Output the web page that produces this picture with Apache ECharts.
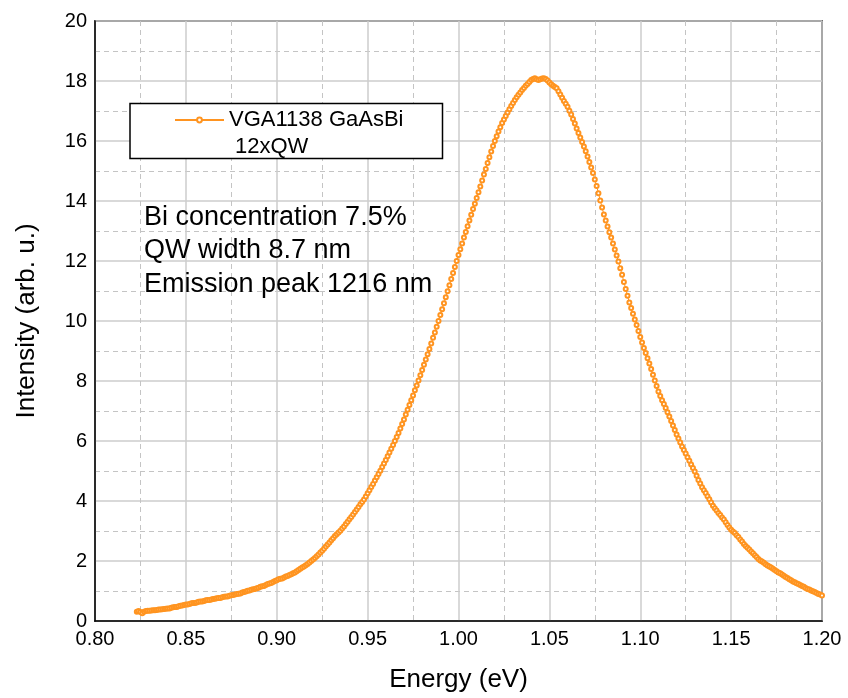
<!DOCTYPE html>
<html>
<head>
<meta charset="utf-8">
<title>VGA1138 GaAsBi photoluminescence</title>
<script src="https://cdn.jsdelivr.net/npm/echarts@6/dist/echarts.min.js"></script>
<style>
  html, body { margin: 0; padding: 0; background: #ffffff; }
  #chart { width: 848px; height: 698px; }
</style>
</head>
<body>
<div id="chart"></div>
<script>
// Photon energy of each sample (eV), one row per 0.01 eV
const energy = [
  0.823, 0.824, 0.825, 0.826, 0.827, 0.828, 0.829, 0.830, 0.831, 0.832,
  0.833, 0.834, 0.835, 0.836, 0.837, 0.838, 0.839, 0.840, 0.841, 0.842,
  0.843, 0.844, 0.845, 0.846, 0.847, 0.848, 0.849, 0.850, 0.851, 0.852,
  0.853, 0.854, 0.855, 0.856, 0.857, 0.858, 0.859, 0.860, 0.861, 0.862,
  0.863, 0.864, 0.865, 0.866, 0.867, 0.868, 0.869, 0.870, 0.871, 0.872,
  0.873, 0.874, 0.875, 0.876, 0.877, 0.878, 0.879, 0.880, 0.881, 0.882,
  0.883, 0.884, 0.885, 0.886, 0.887, 0.888, 0.889, 0.890, 0.891, 0.892,
  0.893, 0.894, 0.895, 0.896, 0.897, 0.898, 0.899, 0.900, 0.901, 0.902,
  0.903, 0.904, 0.905, 0.906, 0.907, 0.908, 0.909, 0.910, 0.911, 0.912,
  0.913, 0.914, 0.915, 0.916, 0.917, 0.918, 0.919, 0.920, 0.921, 0.922,
  0.923, 0.924, 0.925, 0.926, 0.927, 0.928, 0.929, 0.930, 0.931, 0.932,
  0.933, 0.934, 0.935, 0.936, 0.937, 0.938, 0.939, 0.940, 0.941, 0.942,
  0.943, 0.944, 0.945, 0.946, 0.947, 0.948, 0.949, 0.950, 0.951, 0.952,
  0.953, 0.954, 0.955, 0.956, 0.957, 0.958, 0.959, 0.960, 0.961, 0.962,
  0.963, 0.964, 0.965, 0.966, 0.967, 0.968, 0.969, 0.970, 0.971, 0.972,
  0.973, 0.974, 0.975, 0.976, 0.977, 0.978, 0.979, 0.980, 0.981, 0.982,
  0.983, 0.984, 0.985, 0.986, 0.987, 0.988, 0.989, 0.990, 0.991, 0.992,
  0.993, 0.994, 0.995, 0.996, 0.997, 0.998, 0.999, 1.000, 1.001, 1.002,
  1.003, 1.004, 1.005, 1.006, 1.007, 1.008, 1.009, 1.010, 1.011, 1.012,
  1.013, 1.014, 1.015, 1.016, 1.017, 1.018, 1.019, 1.020, 1.021, 1.022,
  1.023, 1.024, 1.025, 1.026, 1.027, 1.028, 1.029, 1.030, 1.031, 1.032,
  1.033, 1.034, 1.035, 1.036, 1.037, 1.038, 1.039, 1.040, 1.041, 1.042,
  1.043, 1.044, 1.045, 1.046, 1.047, 1.048, 1.049, 1.050, 1.051, 1.052,
  1.053, 1.054, 1.055, 1.056, 1.057, 1.058, 1.059, 1.060, 1.061, 1.062,
  1.063, 1.064, 1.065, 1.066, 1.067, 1.068, 1.069, 1.070, 1.071, 1.072,
  1.073, 1.074, 1.075, 1.076, 1.077, 1.078, 1.079, 1.080, 1.081, 1.082,
  1.083, 1.084, 1.085, 1.086, 1.087, 1.088, 1.089, 1.090, 1.091, 1.092,
  1.093, 1.094, 1.095, 1.096, 1.097, 1.098, 1.099, 1.100, 1.101, 1.102,
  1.103, 1.104, 1.105, 1.106, 1.107, 1.108, 1.109, 1.110, 1.111, 1.112,
  1.113, 1.114, 1.115, 1.116, 1.117, 1.118, 1.119, 1.120, 1.121, 1.122,
  1.123, 1.124, 1.125, 1.126, 1.127, 1.128, 1.129, 1.130, 1.131, 1.132,
  1.133, 1.134, 1.135, 1.136, 1.137, 1.138, 1.139, 1.140, 1.141, 1.142,
  1.143, 1.144, 1.145, 1.146, 1.147, 1.148, 1.149, 1.150, 1.151, 1.152,
  1.153, 1.154, 1.155, 1.156, 1.157, 1.158, 1.159, 1.160, 1.161, 1.162,
  1.163, 1.164, 1.165, 1.166, 1.167, 1.168, 1.169, 1.170, 1.171, 1.172,
  1.173, 1.174, 1.175, 1.176, 1.177, 1.178, 1.179, 1.180, 1.181, 1.182,
  1.183, 1.184, 1.185, 1.186, 1.187, 1.188, 1.189, 1.190, 1.191, 1.192,
  1.193, 1.194, 1.195, 1.196, 1.197, 1.198, 1.199, 1.200
];

// PL intensity at each energy (arb. u.)
const intensity = [
  0.31, 0.33, 0.30, 0.26, 0.31, 0.33, 0.34, 0.34, 0.35, 0.36,
  0.36, 0.37, 0.38, 0.38, 0.39, 0.40, 0.41, 0.42, 0.42, 0.44,
  0.46, 0.47, 0.47, 0.49, 0.51, 0.52, 0.53, 0.55, 0.55, 0.57,
  0.59, 0.60, 0.60, 0.62, 0.64, 0.65, 0.65, 0.67, 0.69, 0.70,
  0.70, 0.72, 0.73, 0.74, 0.76, 0.77, 0.77, 0.79, 0.81, 0.82,
  0.82, 0.84, 0.86, 0.87, 0.88, 0.90, 0.91, 0.92, 0.95, 0.97,
  0.98, 1.01, 1.02, 1.04, 1.06, 1.07, 1.09, 1.11, 1.14, 1.16,
  1.17, 1.20, 1.23, 1.25, 1.27, 1.30, 1.33, 1.36, 1.39, 1.41,
  1.42, 1.45, 1.48, 1.50, 1.53, 1.56, 1.59, 1.62, 1.66, 1.70,
  1.74, 1.78, 1.82, 1.86, 1.90, 1.95, 2.00, 2.05, 2.10, 2.16,
  2.22, 2.28, 2.34, 2.41, 2.48, 2.55, 2.62, 2.69, 2.76, 2.83,
  2.89, 2.95, 3.01, 3.08, 3.15, 3.23, 3.31, 3.39, 3.47, 3.55,
  3.63, 3.72, 3.80, 3.89, 3.97, 4.05, 4.15, 4.26, 4.36, 4.47,
  4.57, 4.68, 4.79, 4.90, 5.01, 5.13, 5.25, 5.37, 5.49, 5.62,
  5.74, 5.87, 6.00, 6.13, 6.27, 6.42, 6.57, 6.72, 6.88, 7.04,
  7.20, 7.36, 7.52, 7.69, 7.85, 8.02, 8.19, 8.37, 8.54, 8.72,
  8.89, 9.07, 9.25, 9.44, 9.62, 9.81, 10.00, 10.20, 10.39, 10.59,
  10.79, 10.99, 11.19, 11.40, 11.60, 11.80, 12.00, 12.20, 12.39, 12.58,
  12.78, 12.97, 13.16, 13.35, 13.54, 13.73, 13.91, 14.10, 14.29, 14.48,
  14.68, 14.88, 15.07, 15.27, 15.46, 15.65, 15.83, 16.00, 16.16, 16.32,
  16.46, 16.60, 16.72, 16.83, 16.95, 17.06, 17.17, 17.27, 17.37, 17.46,
  17.54, 17.62, 17.70, 17.77, 17.84, 17.90, 17.97, 18.03, 18.07, 18.09,
  18.06, 18.03, 18.06, 18.08, 18.09, 18.07, 18.02, 17.95, 17.89, 17.84,
  17.80, 17.76, 17.66, 17.55, 17.44, 17.33, 17.24, 17.14, 17.01, 16.88,
  16.73, 16.58, 16.42, 16.27, 16.12, 15.97, 15.82, 15.66, 15.48, 15.30,
  15.12, 14.93, 14.72, 14.50, 14.26, 14.02, 13.78, 13.55, 13.35, 13.15,
  12.96, 12.78, 12.58, 12.38, 12.18, 11.98, 11.76, 11.54, 11.30, 11.07,
  10.84, 10.62, 10.43, 10.24, 10.05, 9.87, 9.67, 9.47, 9.28, 9.10,
  8.93, 8.76, 8.58, 8.40, 8.21, 8.02, 7.83, 7.65, 7.50, 7.36,
  7.23, 7.10, 6.96, 6.82, 6.67, 6.52, 6.37, 6.22, 6.08, 5.95,
  5.82, 5.70, 5.58, 5.46, 5.34, 5.22, 5.10, 4.98, 4.84, 4.70,
  4.58, 4.46, 4.36, 4.27, 4.16, 4.06, 3.95, 3.84, 3.76, 3.68,
  3.60, 3.53, 3.45, 3.38, 3.29, 3.20, 3.12, 3.04, 2.98, 2.93,
  2.86, 2.80, 2.72, 2.65, 2.57, 2.50, 2.44, 2.38, 2.32, 2.26,
  2.19, 2.13, 2.07, 2.02, 1.98, 1.94, 1.89, 1.85, 1.82, 1.78,
  1.74, 1.70, 1.66, 1.62, 1.59, 1.55, 1.51, 1.47, 1.43, 1.39,
  1.36, 1.32, 1.29, 1.26, 1.23, 1.20, 1.17, 1.14, 1.10, 1.07,
  1.05, 1.02, 0.99, 0.97, 0.93, 0.90, 0.88, 0.85
];

const seriesName = 'VGA1138 GaAsBi';
const seriesSubName = '12xQW';
const notes = ['Bi concentration 7.5%', 'QW width 8.7 nm', 'Emission peak 1216 nm'];

const xRange = { min: 0.80, max: 1.20, step: 0.05 };
const yRange = { min: 0, max: 20, step: 2 };

const points = energy.map((e, i) => [e, intensity[i]]);

const FONT = '"Liberation Sans", Arial, Helvetica, sans-serif';
const ORANGE = '#ff9420';

const chart = echarts.init(document.getElementById('chart'), null, { renderer: 'canvas' });

const majorLine = { show: true, lineStyle: { color: '#cdcdcd', width: 1.5, type: 'solid' } };
const minorLine = { show: true, lineStyle: { color: '#c4c4c4', width: 1, type: [5, 4] } };

chart.setOption({
  backgroundColor: '#ffffff',
  animation: false,
  textStyle: { fontFamily: FONT },
  grid: {
    left: 95, right: 26, top: 21, bottom: 77,
    show: true, borderColor: '#000000', borderWidth: 1.5, backgroundColor: 'transparent'
  },
  xAxis: {
    type: 'value',
    min: xRange.min, max: xRange.max, interval: xRange.step,
    name: 'Energy (eV)',
    nameLocation: 'middle',
    nameGap: 46,
    nameTextStyle: { fontSize: 26, color: '#000', fontFamily: FONT },
    axisLine: { show: true, onZero: false, lineStyle: { color: '#000', width: 1.5 } },
    axisTick: { show: false },
    axisLabel: {
      fontSize: 20, color: '#000', margin: 8, fontFamily: FONT,
      formatter: v => v.toFixed(2)
    },
    splitLine: majorLine,
    minorTick: { show: false, splitNumber: 2 },
    minorSplitLine: minorLine
  },
  yAxis: {
    type: 'value',
    min: yRange.min, max: yRange.max, interval: yRange.step,
    name: 'Intensity (arb. u.)',
    nameLocation: 'middle',
    nameGap: 55,
    nameTextStyle: { fontSize: 26, color: '#000', fontFamily: FONT },
    axisLine: { show: true, lineStyle: { color: '#000', width: 1.5 } },
    axisTick: { show: false },
    axisLabel: { fontSize: 20, color: '#000', margin: 8, fontFamily: FONT },
    splitLine: majorLine,
    minorTick: { show: false, splitNumber: 2 },
    minorSplitLine: minorLine
  },
  legend: {
    show: true,
    left: 174,
    top: 109,
    padding: 0,
    itemWidth: 49,
    itemHeight: 6,
    z: 6,
    lineStyle: { width: 2 },
    textStyle: { fontSize: 22, color: '#000', fontFamily: FONT },
    data: [seriesName]
  },
  graphic: [
    {
      type: 'rect', z: 5,
      shape: { x: 130, y: 103.5, width: 312.5, height: 55 },
      style: { fill: '#ffffff', stroke: '#000000', lineWidth: 1.5 }
    },
    {
      type: 'text', z: 7, left: 235, top: 136,
      style: { text: seriesSubName, fontSize: 22, fill: '#000', fontFamily: FONT }
    },
    {
      type: 'group', z: 7, left: 144, top: 204,
      children: notes.map((t, i) => ({
        type: 'text', z: 7, x: 0, y: i * 33.4,
        style: { text: t, fontSize: 27, fill: '#000', fontFamily: FONT }
      }))
    }
  ],
  series: [{
    name: seriesName,
    type: 'line',
    data: points,
    symbol: 'emptyCircle',
    symbolSize: 4,
    showAllSymbol: true,
    smooth: false,
    z: 3,
    itemStyle: { color: ORANGE, borderColor: ORANGE, borderWidth: 1 },
    lineStyle: { color: ORANGE, width: 1 }
  }]
});
</script>
</body>
</html>
